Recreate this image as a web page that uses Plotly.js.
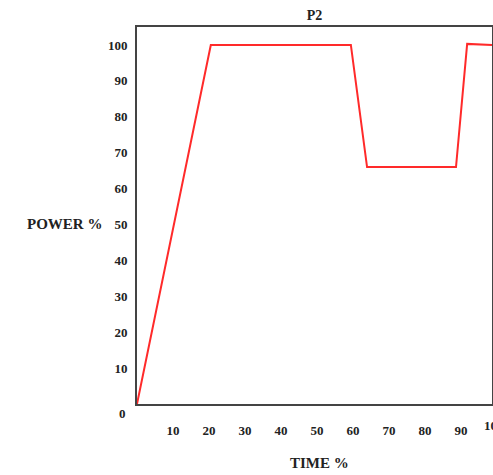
<!DOCTYPE html>
<html>
<head>
<meta charset="utf-8">
<script src="https://cdn.plot.ly/plotly-3.0.1.min.js"></script>
<style>html,body{margin:0;padding:0;background:#fff;}#chart{width:493px;height:475px;}</style>
</head>
<body>
<div id="chart"></div>
<script>
const timePct = [0, 20.5, 59.4, 63.9, 88.6, 91.7, 98.6];
const powerPct = [0, 100, 100, 66, 66, 100.3, 100];
const xTicks = [10, 20, 30, 40, 50, 60, 70, 80, 90];
const yTicks = [10, 20, 30, 40, 50, 60, 70, 80, 90, 100];

const fam = 'Liberation Serif, Times New Roman, serif';
const font = {family: fam, size: 13, color: '#222'};
const labFont = {family: fam, size: 15, color: '#222'};

Plotly.newPlot('chart', [{
  x: timePct, y: powerPct, type: 'scatter', mode: 'lines',
  line: {color: '#ff2a2a', width: 2}, hoverinfo: 'skip'
}], {
  width: 493, height: 475,
  margin: {l: 137, r: 1, t: 27, b: 71},
  paper_bgcolor: '#fff', plot_bgcolor: '#fff',
  showlegend: false,
  font: font,
  title: {text: '<b>P2</b>', x: 0.5, xref: 'paper', xanchor: 'center', y: 0.968, yref: 'container', yanchor: 'middle', font: {family: fam, size: 14, color: '#222'}},
  xaxis: {
    range: [0, 98.6], tickvals: xTicks, ticktext: xTicks.map(v => '<b>' + v + '</b>'),
    showgrid: false, zeroline: false, showline: true, mirror: true,
    linecolor: '#444', linewidth: 2, ticks: 'outside', ticklen: 13, tickcolor: 'rgba(0,0,0,0)',
    tickfont: font, fixedrange: true
  },
  yaxis: {
    range: [0, 105], tickvals: yTicks, ticktext: yTicks.map(v => '<b>' + v + '</b>'),
    showgrid: false, zeroline: false, showline: true, mirror: true,
    linecolor: '#444', linewidth: 2, ticks: 'outside', ticklen: 5, tickcolor: 'rgba(0,0,0,0)',
    tickfont: font, fixedrange: true
  },
  annotations: [
    {text: '<b>0</b>', xref: 'paper', yref: 'y', x: 0, y: 0, xanchor: 'center', yanchor: 'middle', xshift: -15, yshift: -9, showarrow: false, font: font},
    {text: '<b>100</b>', xref: 'paper', yref: 'paper', x: 1, y: 0, xanchor: 'left', yanchor: 'middle', xshift: -10, yshift: -21, showarrow: false, font: font},
    {text: '<b>POWER %</b>', xref: 'paper', yref: 'y', x: 0, y: 50, xanchor: 'right', yanchor: 'middle', xshift: -33, showarrow: false, font: labFont},
    {text: '<b>TIME %</b>', xref: 'paper', yref: 'paper', x: 0.513, y: 0, xanchor: 'center', yanchor: 'middle', yshift: -59, showarrow: false, font: labFont}
  ]
}, {staticPlot: true, displayModeBar: false});
</script>
</body>
</html>
